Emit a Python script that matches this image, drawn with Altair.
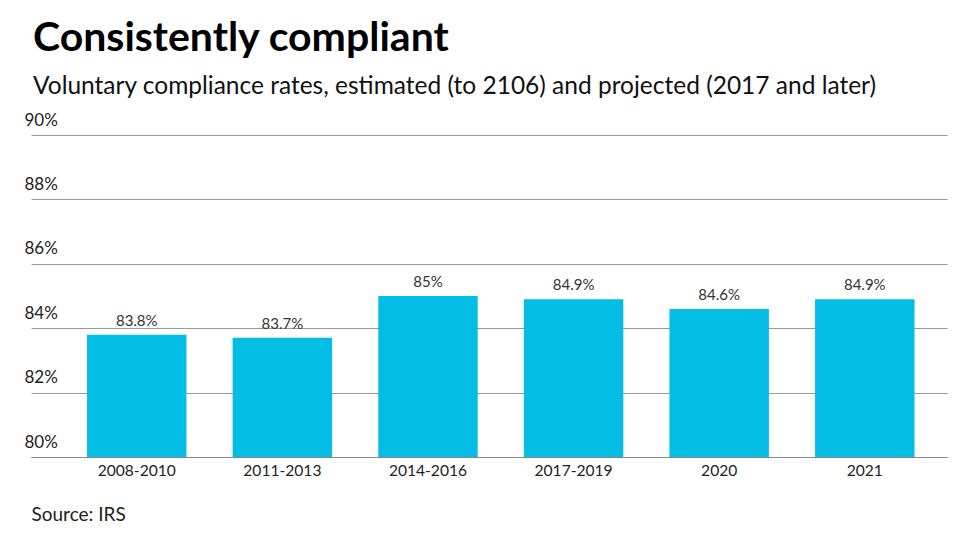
import altair as alt
import pandas as pd

periods = ["2008-2010", "2011-2013", "2014-2016", "2017-2019", "2020", "2021"]
rates = [83.8, 83.7, 85.0, 84.9, 84.6, 84.9]
labels = [f"{v:g}%" for v in rates]
y_ticks = [80, 82, 84, 86, 88, 90]

df = pd.DataFrame({"period": periods, "rate": rates, "label": labels})

FONT = "Lato"

x_enc = alt.X(
    "period:N",
    sort=periods,
    scale=alt.Scale(paddingInner=0.317, paddingOuter=0.304, align=0.633),
    axis=alt.Axis(
        title="Source: IRS",
        titleFont=FONT,
        titleFontSize=19,
        titleFontWeight="normal",
        titleColor="#222",
        titleAnchor="start",
        titleAlign="left",
        titleX=0,
        titleY=63,
        titleBaseline="alphabetic",
        labelFont=FONT,
        labelFontSize=15.6,
        labelColor="#222",
        labelAngle=0,
        labelPadding=6,
        ticks=False,
        domain=True,
        domainColor="#888",
        domainWidth=1,
    ),
)

bars = alt.Chart(df).mark_bar(color="#03BDE5").encode(
    x=x_enc,
    y=alt.Y(
        "rate:Q",
        scale=alt.Scale(domain=[80, 90], zero=False, nice=False),
        axis=alt.Axis(
            title=None,
            values=y_ticks,
            labelExpr="datum.value + '%'",
            labelFont=FONT,
            labelFontSize=17,
            labelColor="#222",
            labelAlign="left",
            labelBaseline="alphabetic",
            labelPadding=7,
            labelOffset=-10,
            ticks=False,
            tickSize=0,
            domain=False,
            grid=True,
            gridColor="#999",
            gridWidth=1,
        ),
    ),
    y2=alt.datum(80),
)

text = alt.Chart(df).mark_text(
    font=FONT, fontSize=15, color="#333", baseline="alphabetic", dy=-9
).encode(
    x=alt.X("period:N", sort=periods),
    y=alt.Y("rate:Q"),
    text="label:N",
)

chart = (
    alt.layer(bars, text)
    .properties(
        width=916,
        height=322,
        autosize=alt.AutoSizeParams(type="none"),
        padding={"left": 23, "top": 127, "right": 23, "bottom": 85},
        title=alt.TitleParams(
            text="Consistently compliant",
            subtitle="Voluntary compliance rates, estimated (to 2106) and projected (2017 and later)",
            anchor="start",
            frame="group",
            dx=2,
            dy=1,
            font=FONT,
            fontSize=41,
            fontWeight="bold",
            color="#000",
            subtitleFont=FONT,
            subtitleFontSize=24.5,
            subtitleColor="#111",
            subtitlePadding=15,
            offset=13,
        ),
    )
    .configure_view(stroke=None)
)

chart.save("out.html", embed_options={"renderer": "svg", "actions": False})
